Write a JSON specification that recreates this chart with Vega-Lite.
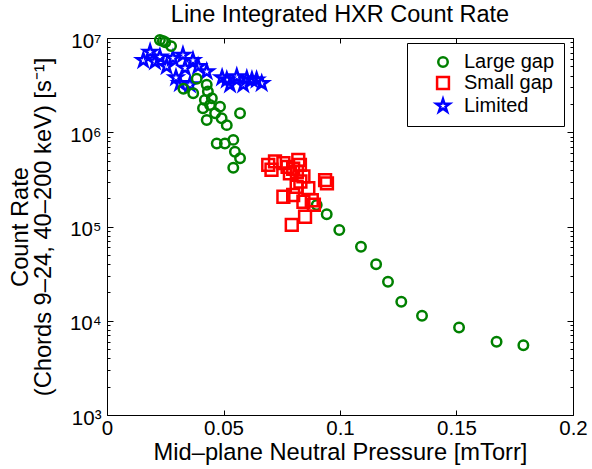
{
  "$schema": "https://vega.github.io/schema/vega-lite/v6.json",
  "width": 466,
  "height": 377,
  "autosize": "none",
  "padding": {"left": 107, "top": 38, "right": 19, "bottom": 54},
  "title": {
    "text": "Line Integrated HXR Count Rate",
    "fontSize": 23.5,
    "fontWeight": "normal",
    "font": "Liberation Sans",
    "color": "black",
    "frame": "group",
    "anchor": "middle",
    "offset": 4
  },
  "data": {
    "values": [
      {"g": "Limited", "p": 0.0156, "c": 5800000},
      {"g": "Limited", "p": 0.0185, "c": 7100000},
      {"g": "Limited", "p": 0.0206, "c": 5600000},
      {"g": "Limited", "p": 0.0227, "c": 6300000},
      {"g": "Limited", "p": 0.0256, "c": 5000000},
      {"g": "Limited", "p": 0.0283, "c": 6100000},
      {"g": "Limited", "p": 0.0296, "c": 3800000},
      {"g": "Limited", "p": 0.0313, "c": 3300000},
      {"g": "Limited", "p": 0.0326, "c": 6600000},
      {"g": "Limited", "p": 0.0335, "c": 4800000},
      {"g": "Limited", "p": 0.0356, "c": 3200000},
      {"g": "Limited", "p": 0.0369, "c": 5800000},
      {"g": "Limited", "p": 0.0391, "c": 5000000},
      {"g": "Limited", "p": 0.0428, "c": 4400000},
      {"g": "Limited", "p": 0.0494, "c": 3800000},
      {"g": "Limited", "p": 0.0514, "c": 3600000},
      {"g": "Limited", "p": 0.0528, "c": 3200000},
      {"g": "Limited", "p": 0.0557, "c": 3900000},
      {"g": "Limited", "p": 0.0585, "c": 3200000},
      {"g": "Limited", "p": 0.0600, "c": 3700000},
      {"g": "Limited", "p": 0.0622, "c": 3600000},
      {"g": "Limited", "p": 0.0642, "c": 3600000},
      {"g": "Limited", "p": 0.0664, "c": 3300000},
      {"g": "Large gap", "p": 0.0227, "c": 9500000},
      {"g": "Large gap", "p": 0.0240, "c": 9300000},
      {"g": "Large gap", "p": 0.0250, "c": 9000000},
      {"g": "Large gap", "p": 0.0275, "c": 8200000},
      {"g": "Large gap", "p": 0.0328, "c": 2900000},
      {"g": "Large gap", "p": 0.0370, "c": 2600000},
      {"g": "Large gap", "p": 0.0385, "c": 3700000},
      {"g": "Large gap", "p": 0.0428, "c": 3200000},
      {"g": "Large gap", "p": 0.0433, "c": 2700000},
      {"g": "Large gap", "p": 0.0420, "c": 2200000},
      {"g": "Large gap", "p": 0.0442, "c": 1950000},
      {"g": "Large gap", "p": 0.0450, "c": 2300000},
      {"g": "Large gap", "p": 0.0412, "c": 1800000},
      {"g": "Large gap", "p": 0.0428, "c": 1350000},
      {"g": "Large gap", "p": 0.0464, "c": 1590000},
      {"g": "Large gap", "p": 0.0485, "c": 1870000},
      {"g": "Large gap", "p": 0.0492, "c": 1410000},
      {"g": "Large gap", "p": 0.0514, "c": 1190000},
      {"g": "Large gap", "p": 0.0571, "c": 1590000},
      {"g": "Large gap", "p": 0.0471, "c": 760000},
      {"g": "Large gap", "p": 0.0506, "c": 760000},
      {"g": "Large gap", "p": 0.0542, "c": 830000},
      {"g": "Large gap", "p": 0.0549, "c": 620000},
      {"g": "Large gap", "p": 0.0571, "c": 530000},
      {"g": "Large gap", "p": 0.0542, "c": 420000},
      {"g": "Large gap", "p": 0.0900, "c": 169000},
      {"g": "Large gap", "p": 0.0943, "c": 135000},
      {"g": "Large gap", "p": 0.0997, "c": 92000},
      {"g": "Large gap", "p": 0.1090, "c": 61000},
      {"g": "Large gap", "p": 0.1155, "c": 39700},
      {"g": "Large gap", "p": 0.1206, "c": 26000},
      {"g": "Large gap", "p": 0.1263, "c": 15900},
      {"g": "Large gap", "p": 0.1352, "c": 11300},
      {"g": "Large gap", "p": 0.1511, "c": 8500},
      {"g": "Large gap", "p": 0.1672, "c": 6000},
      {"g": "Large gap", "p": 0.1787, "c": 5500},
      {"g": "Small gap", "p": 0.0692, "c": 450000},
      {"g": "Small gap", "p": 0.0706, "c": 400000},
      {"g": "Small gap", "p": 0.0721, "c": 490000},
      {"g": "Small gap", "p": 0.0757, "c": 470000},
      {"g": "Small gap", "p": 0.0775, "c": 430000},
      {"g": "Small gap", "p": 0.0821, "c": 510000},
      {"g": "Small gap", "p": 0.0828, "c": 450000},
      {"g": "Small gap", "p": 0.0799, "c": 410000},
      {"g": "Small gap", "p": 0.0815, "c": 380000},
      {"g": "Small gap", "p": 0.0785, "c": 366000},
      {"g": "Small gap", "p": 0.0843, "c": 340000},
      {"g": "Small gap", "p": 0.0830, "c": 300000},
      {"g": "Small gap", "p": 0.0936, "c": 310000},
      {"g": "Small gap", "p": 0.0944, "c": 287000},
      {"g": "Small gap", "p": 0.0814, "c": 264000},
      {"g": "Small gap", "p": 0.0864, "c": 255000},
      {"g": "Small gap", "p": 0.0757, "c": 207000},
      {"g": "Small gap", "p": 0.0799, "c": 216000},
      {"g": "Small gap", "p": 0.0879, "c": 190000},
      {"g": "Small gap", "p": 0.0843, "c": 183000},
      {"g": "Small gap", "p": 0.0888, "c": 170000},
      {"g": "Small gap", "p": 0.0850, "c": 127000},
      {"g": "Small gap", "p": 0.0793, "c": 104000}
    ]
  },
  "config": {
    "font": "Liberation Sans",
    "view": {"stroke": "black", "strokeWidth": 1},
    "axis": {
      "grid": false,
      "domain": false,
      "tickColor": "black",
      "tickWidth": 1,
      "labelColor": "black",
      "titleColor": "black",
      "labelFontSize": 20.5,
      "titleFontSize": 23.7,
      "titleFontWeight": "normal"
    }
  },
  "resolve": {"axis": {"x": "independent", "y": "independent"}},
  "layer": [
    {
      "mark": {"type": "point", "filled": false, "strokeWidth": 2.5, "opacity": 1},
      "encoding": {
        "x": {
          "field": "p",
          "type": "quantitative",
          "scale": {"domain": [0, 0.2], "nice": false, "zero": true},
          "axis": {
            "orient": "bottom",
            "values": [0, 0.05, 0.1, 0.15, 0.2],
            "format": "~g",
            "tickSize": -5,
            "labelPadding": 8,
            "labelFlush": false,
            "labelOverlap": false,
            "title": "Mid–plane Neutral Pressure [mTorr]",
            "titlePadding": 2
          }
        },
        "y": {
          "field": "c",
          "type": "quantitative",
          "scale": {"type": "log", "domain": [1000, 10000000], "nice": false},
          "axis": {
            "orient": "left",
            "values": [1000, 10000, 100000, 1000000, 10000000],
            "labelExpr": "datum.value == 1000 ? '10³' : datum.value == 10000 ? '10⁴' : datum.value == 100000 ? '10⁵' : datum.value == 1000000 ? '10⁶' : '10⁷'",
            "tickSize": -6,
            "labelPadding": 12,
            "labelOffset": 3,
            "labelFlush": false,
            "labelOverlap": false,
            "title": ["Count Rate", "(Chords 9–24, 40–200 keV) [s⁻¹]"],
            "titleLineHeight": 23,
            "titlePadding": 14
          }
        },
        "color": {
          "field": "g",
          "type": "nominal",
          "scale": {"domain": ["Large gap", "Small gap", "Limited"], "range": ["#008000", "#ff0000", "#0000ff"]},
          "legend": {
            "orient": "none",
            "legendX": 300,
            "legendY": 5,
            "title": " ",
            "titleOrient": "left",
            "titleFontSize": 1,
            "titlePadding": 17,
            "strokeColor": "black",
            "fillColor": "white",
            "padding": 9,
            "labelFontSize": 20,
            "labelColor": "black",
            "labelOffset": 11,
            "symbolOffset": 0,
            "symbolStrokeWidth": 2.5,
            "rowPadding": 0,
            "cornerRadius": 0
          }
        },
        "shape": {
          "field": "g",
          "type": "nominal",
          "scale": {
            "domain": ["Large gap", "Small gap", "Limited"],
            "range": ["circle", "square", "M0,-1L0.2245,-0.309L0.951,-0.309L0.363,0.118L0.588,0.809L0,0.382L-0.588,0.809L-0.363,0.118L-0.951,-0.309L-0.2245,-0.309Z"]
          }
        },
        "size": {
          "field": "g",
          "type": "nominal",
          "scale": {"domain": ["Large gap", "Small gap", "Limited"], "range": [90, 190, 2000]}
        }
      }
    },
    {
      "mark": {"type": "point", "opacity": 0},
      "encoding": {
        "x": {
          "field": "p",
          "type": "quantitative",
          "axis": {"orient": "top", "values": [0, 0.05, 0.1, 0.15, 0.2], "tickSize": -5, "labels": false, "title": null}
        },
        "y": {
          "field": "c",
          "type": "quantitative",
          "axis": {"orient": "right", "values": [1000, 10000, 100000, 1000000, 10000000], "tickSize": -6, "labels": false, "title": null}
        }
      }
    },
    {
      "mark": {"type": "point", "opacity": 0},
      "encoding": {
        "x": {"field": "p", "type": "quantitative", "axis": null},
        "y": {
          "field": "c",
          "type": "quantitative",
          "axis": {
            "orient": "left",
            "values": [2000, 3000, 4000, 5000, 6000, 7000, 8000, 9000, 20000, 30000, 40000, 50000, 60000, 70000, 80000, 90000, 200000, 300000, 400000, 500000, 600000, 700000, 800000, 900000, 2000000, 3000000, 4000000, 5000000, 6000000, 7000000, 8000000, 9000000],
            "tickSize": -3,
            "labels": false,
            "title": null
          }
        }
      }
    },
    {
      "mark": {"type": "point", "opacity": 0},
      "encoding": {
        "x": {"field": "p", "type": "quantitative", "axis": null},
        "y": {
          "field": "c",
          "type": "quantitative",
          "axis": {
            "orient": "right",
            "values": [2000, 3000, 4000, 5000, 6000, 7000, 8000, 9000, 20000, 30000, 40000, 50000, 60000, 70000, 80000, 90000, 200000, 300000, 400000, 500000, 600000, 700000, 800000, 900000, 2000000, 3000000, 4000000, 5000000, 6000000, 7000000, 8000000, 9000000],
            "tickSize": -3,
            "labels": false,
            "title": null
          }
        }
      }
    }
  ]
}
